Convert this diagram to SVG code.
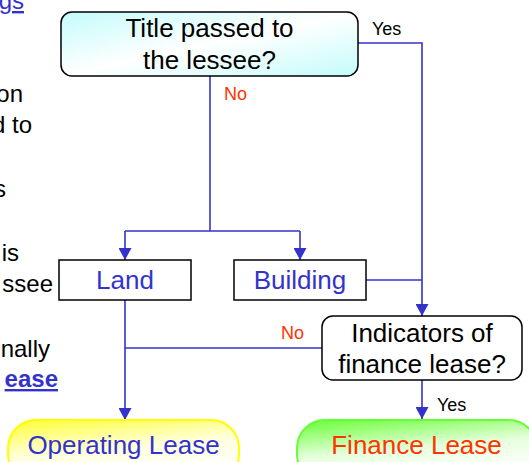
<svg xmlns="http://www.w3.org/2000/svg" width="529" height="462" viewBox="0 0 529 462">
<style>
text{font-family:"Liberation Sans",Arial,sans-serif}
.side{font-size:24px;fill:#000}
.link{font-size:24px;fill:#3333cc}
.q{font-size:26px;fill:#000;text-anchor:middle}
.b{font-size:26px;fill:#3333cc;text-anchor:middle}
.lbl{font-size:18px}
.yes{fill:#000}
.no{fill:#ff3300}
.box{fill:#fff;stroke:#000;stroke-width:1.5}
.con{fill:none;stroke:#3333cc;stroke-width:1.6}
</style>
<defs>
<linearGradient id="gCyan" x1="0" y1="0" x2="1" y2="1">
<stop offset="0" stop-color="#c4fbfb"/>
<stop offset="0.5" stop-color="#ffffff"/>
<stop offset="1" stop-color="#c4fbfb"/>
</linearGradient>
<linearGradient id="gYel" x1="0" y1="0" x2="0.35" y2="1">
<stop offset="0" stop-color="#ffff33"/>
<stop offset="0.55" stop-color="#ffffdd"/>
<stop offset="1" stop-color="#ffffff"/>
</linearGradient>
<linearGradient id="gGrn" x1="0" y1="0" x2="0.35" y2="1">
<stop offset="0" stop-color="#66ff33"/>
<stop offset="0.55" stop-color="#e6ffdd"/>
<stop offset="1" stop-color="#ffffff"/>
</linearGradient>
<marker id="arr" markerUnits="userSpaceOnUse" markerWidth="13" markerHeight="13" refX="12" refY="6.5" orient="auto">
<path d="M0,0 L12,6.5 L0,13 z" fill="#3333cc"/>
</marker>
</defs>

<g id="side-text">
<text class="link" x="24" y="9" text-anchor="end" text-decoration="underline">gs</text>
<text class="side" x="23" y="102" text-anchor="end">on</text>
<text class="side" x="32" y="133" text-anchor="end">d to</text>
<text class="side" x="6" y="197" text-anchor="end">s</text>
<text class="side" x="19" y="261" text-anchor="end">is</text>
<text class="side" x="53" y="292" text-anchor="end">ssee</text>
<text class="side" x="50" y="357" text-anchor="end">nally</text>
<text class="link" x="58" y="387" text-anchor="end" font-weight="bold" text-decoration="underline">ease</text>
</g>

<g id="connectors">
<polyline class="con" points="210,76 210,231"/>
<polyline class="con" points="125,231 300,231"/>
<polyline class="con" points="125,231 125,260" marker-end="url(#arr)"/>
<polyline class="con" points="300,231 300,260" marker-end="url(#arr)"/>
<polyline class="con" points="358,43 422,43 422,316" marker-end="url(#arr)"/>
<polyline class="con" points="366,280 422,280"/>
<polyline class="con" points="125,300 125,420" marker-end="url(#arr)"/>
<polyline class="con" points="322,348 125,348"/>
<polyline class="con" points="422,380 422,419" marker-end="url(#arr)"/>
<text class="lbl yes" x="372" y="35">Yes</text>
<text class="lbl no" x="224" y="100">No</text>
<text class="lbl no" x="281" y="339">No</text>
<text class="lbl yes" x="437" y="411">Yes</text>
</g>

<g id="title">
<rect x="61" y="12" width="297" height="64" rx="11" fill="url(#gCyan)" stroke="#000" stroke-width="1.5"/>
<text class="q" x="209.5" y="37">Title passed to</text>
<text class="q" x="209.5" y="69">the lessee?</text>
</g>

<g id="land">
<rect class="box" x="59" y="260" width="132" height="40"/>
<text class="b" x="125" y="289">Land</text>
</g>

<g id="building">
<rect class="box" x="234" y="260" width="132" height="40"/>
<text class="b" x="300" y="289">Building</text>
</g>

<g id="indicators">
<rect class="box" x="322" y="316" width="200" height="64" rx="11"/>
<text class="q" x="422" y="342">Indicators of</text>
<text class="q" x="422" y="373">finance lease?</text>
</g>

<g id="operating">
<rect x="8" y="420" width="231" height="62" rx="28" fill="url(#gYel)" stroke="#ffff00" stroke-width="2"/>
<text class="b" x="123.5" y="454">Operating Lease</text>
</g>

<g id="finance">
<rect x="297" y="420" width="240" height="62" rx="28" fill="url(#gGrn)" stroke="#66ff33" stroke-width="2"/>
<text x="416.5" y="454" font-size="26" fill="#ff3300" text-anchor="middle">Finance Lease</text>
</g>
</svg>
